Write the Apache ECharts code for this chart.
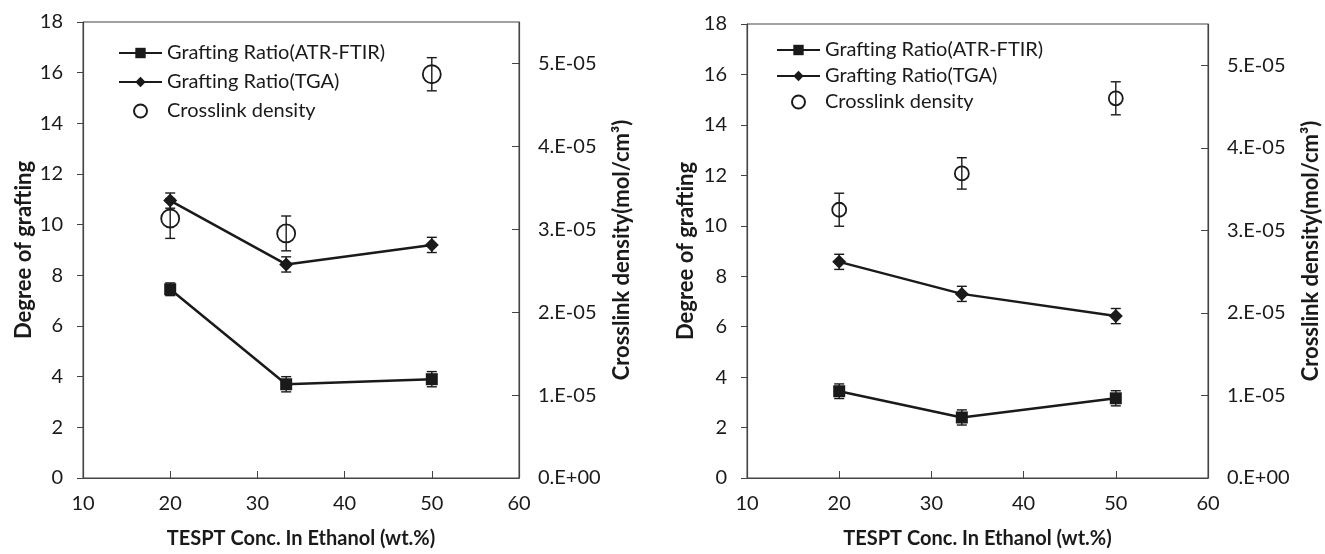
<!DOCTYPE html>
<html><head><meta charset="utf-8">
<script src="https://cdn.jsdelivr.net/npm/echarts@6/dist/echarts.min.js"></script>
<style>html,body{margin:0;padding:0;background:#fff;}#c{width:1325px;height:554px;}</style>
</head><body><div id="c"></div>
<script>
// ---- data ----
const xConc = [20, 33.3, 50];
// Left panel
const leftATR = [7.45, 3.70, 3.90];
const leftATRErr = [0.25, 0.3, 0.3];
const leftTGA = [10.95, 8.43, 9.2];
const leftTGAErr = [0.3, 0.3, 0.3];
const leftXL = [3.13e-5, 2.95e-5, 4.87e-5];
const leftXLErr = [0.24e-5, 0.21e-5, 0.2e-5];
// Right panel
const rightATR = [3.44, 2.40, 3.16];
const rightATRErr = [0.29, 0.3, 0.3];
const rightTGA = [8.57, 7.30, 6.42];
const rightTGAErr = [0.3, 0.3, 0.3];
const rightXL = [3.25e-5, 3.69e-5, 4.60e-5];
const rightXLErr = [0.2e-5, 0.19e-5, 0.2e-5];
// Axis ticks
const xTicks = [10, 20, 30, 40, 50, 60];
const leftYTicks = [0, 2, 4, 6, 8, 10, 12, 14, 16, 18];
const rightYTicks = [0, 1e-5, 2e-5, 3e-5, 4e-5, 5e-5];
const seriesNames = ['Grafting Ratio(ATR-FTIR)', 'Grafting Ratio(TGA)', 'Crosslink density'];

const FONT = 'Lato';
const INK = '#1a1a1a';
const AXC = '#444';

function pts(xs, ys) { return xs.map((x, i) => [x, ys[i]]); }
function errs(xs, ys, es) { return xs.map((x, i) => [x, ys[i] - es[i], ys[i] + es[i]]); }
function errRender(params, api) {
  const x = api.value(0), lo = api.value(1), hi = api.value(2);
  const p1 = api.coord([x, hi]), p2 = api.coord([x, lo]);
  const hw = 5;
  const st = { stroke: INK, lineWidth: 1.4 };
  return { type: 'group', children: [
    { type: 'line', shape: { x1: p1[0], y1: p1[1], x2: p2[0], y2: p2[1] }, style: st },
    { type: 'line', shape: { x1: p1[0] - hw, y1: p1[1], x2: p1[0] + hw, y2: p1[1] }, style: st },
    { type: 'line', shape: { x1: p2[0] - hw, y1: p2[1], x2: p2[0] + hw, y2: p2[1] }, style: st }
  ]};
}
function fmtSci(v) {
  if (Math.abs(v) < 1e-12) return '0.E+00';
  return Math.round(v / 1e-5) + '.E-05';
}

const grids = [
  { left: 83, top: 22, width: 436, height: 460, show: true, borderColor: AXC, borderWidth: 1 },
  { left: 747, top: 24, width: 461, height: 460, show: true, borderColor: AXC, borderWidth: 1 }
];
const labelStyle = { fontFamily: FONT, fontSize: 20, color: INK };
const xNameStyle = { fontFamily: FONT, fontSize: 20, fontWeight: 'bold', color: INK };
const yNameStyle = { fontFamily: FONT, fontSize: 22, fontWeight: 'bold', color: INK };

const xAxes = [0, 1].map(g => ({
  type: 'value', gridIndex: g, min: 10, max: 60, interval: 10,
  name: 'TESPT Conc. In Ethanol (wt.%)', nameLocation: 'middle', nameGap: 51,
  nameTextStyle: xNameStyle,
  axisLine: { lineStyle: { color: AXC, width: 1.2 } },
  axisTick: { inside: true, length: 7, lineStyle: { color: AXC } },
  axisLabel: Object.assign({ margin: 16 }, labelStyle),
  splitLine: { show: false }
}));
const yAxes = [];
[0, 1].forEach(g => {
  yAxes.push({
    type: 'value', gridIndex: g, position: 'left', min: 0, max: 18, interval: 2,
    name: 'Degree of grafting', nameLocation: 'middle', nameGap: g === 0 ? 48 : 50,
    nameTextStyle: yNameStyle,
    axisLine: { show: true, lineStyle: { color: AXC, width: 1.2 } },
    axisTick: { show: true, inside: false, length: 6, lineStyle: { color: AXC } },
    axisLabel: Object.assign({ margin: 20 }, labelStyle),
    splitLine: { show: false }
  });
  yAxes.push({
    type: 'value', gridIndex: g, position: 'right', min: 0, max: 5.5e-5,
    name: 'Crosslink density(mol/cm³)', nameLocation: 'middle', nameGap: 92,
    nameTextStyle: yNameStyle,
    axisLine: { show: true, lineStyle: { color: AXC, width: 1.2 } },
    axisTick: { show: true, inside: true, length: 7, lineStyle: { color: AXC }, customValues: rightYTicks },
    axisLabel: Object.assign({ margin: 19, formatter: fmtSci, customValues: rightYTicks }, labelStyle),
    splitLine: { show: false }
  });
});

function panelSeries(g, atr, atrE, tga, tgaE, xl, xlE, circleSize) {
  const xi = g, yl = g * 2, yr = g * 2 + 1;
  return [
    { type: 'custom', xAxisIndex: xi, yAxisIndex: yl, renderItem: errRender, encode: { x: 0, y: [1, 2] }, data: errs(xConc, atr, atrE), z: 3, silent: true },
    { type: 'custom', xAxisIndex: xi, yAxisIndex: yl, renderItem: errRender, encode: { x: 0, y: [1, 2] }, data: errs(xConc, tga, tgaE), z: 3, silent: true },
    { type: 'custom', xAxisIndex: xi, yAxisIndex: yr, renderItem: errRender, encode: { x: 0, y: [1, 2] }, data: errs(xConc, xl, xlE), z: 3, silent: true },
    { name: seriesNames[0], type: 'line', xAxisIndex: xi, yAxisIndex: yl, data: pts(xConc, atr),
      symbol: 'rect', symbolSize: 12, lineStyle: { color: INK, width: 2.5 }, itemStyle: { color: INK }, z: 4 },
    { name: seriesNames[1], type: 'line', xAxisIndex: xi, yAxisIndex: yl, data: pts(xConc, tga),
      symbol: 'diamond', symbolSize: 14, lineStyle: { color: INK, width: 2.5 }, itemStyle: { color: INK }, z: 4 },
    { name: seriesNames[2], type: 'scatter', xAxisIndex: xi, yAxisIndex: yr, data: pts(xConc, xl),
      symbol: 'circle', symbolSize: circleSize, itemStyle: { color: 'rgba(0,0,0,0)', borderColor: INK, borderWidth: 1.8, opacity: 1 }, z: 4 }
  ];
}

const legendBase = {
  orient: 'vertical', padding: 0, itemWidth: 43, itemHeight: 13,
  textStyle: { fontFamily: FONT, fontSize: 20, color: INK, lineHeight: 18 },
  data: seriesNames, selectedMode: false
};

const option = {
  animation: false,
  backgroundColor: '#fff',
  grid: grids,
  xAxis: xAxes,
  yAxis: yAxes,
  legend: [
    Object.assign({}, legendBase, { left: 118, top: 43, itemGap: 9 }),
    Object.assign({}, legendBase, { left: 776, top: 40, itemGap: 6 })
  ],
  series: [].concat(
    panelSeries(0, leftATR, leftATRErr, leftTGA, leftTGAErr, leftXL, leftXLErr, 18),
    panelSeries(1, rightATR, rightATRErr, rightTGA, rightTGAErr, rightXL, rightXLErr, 14)
  )
};
const chart = echarts.init(document.getElementById('c'), null, { renderer: 'canvas' });
chart.setOption(option);
</script></body></html>
